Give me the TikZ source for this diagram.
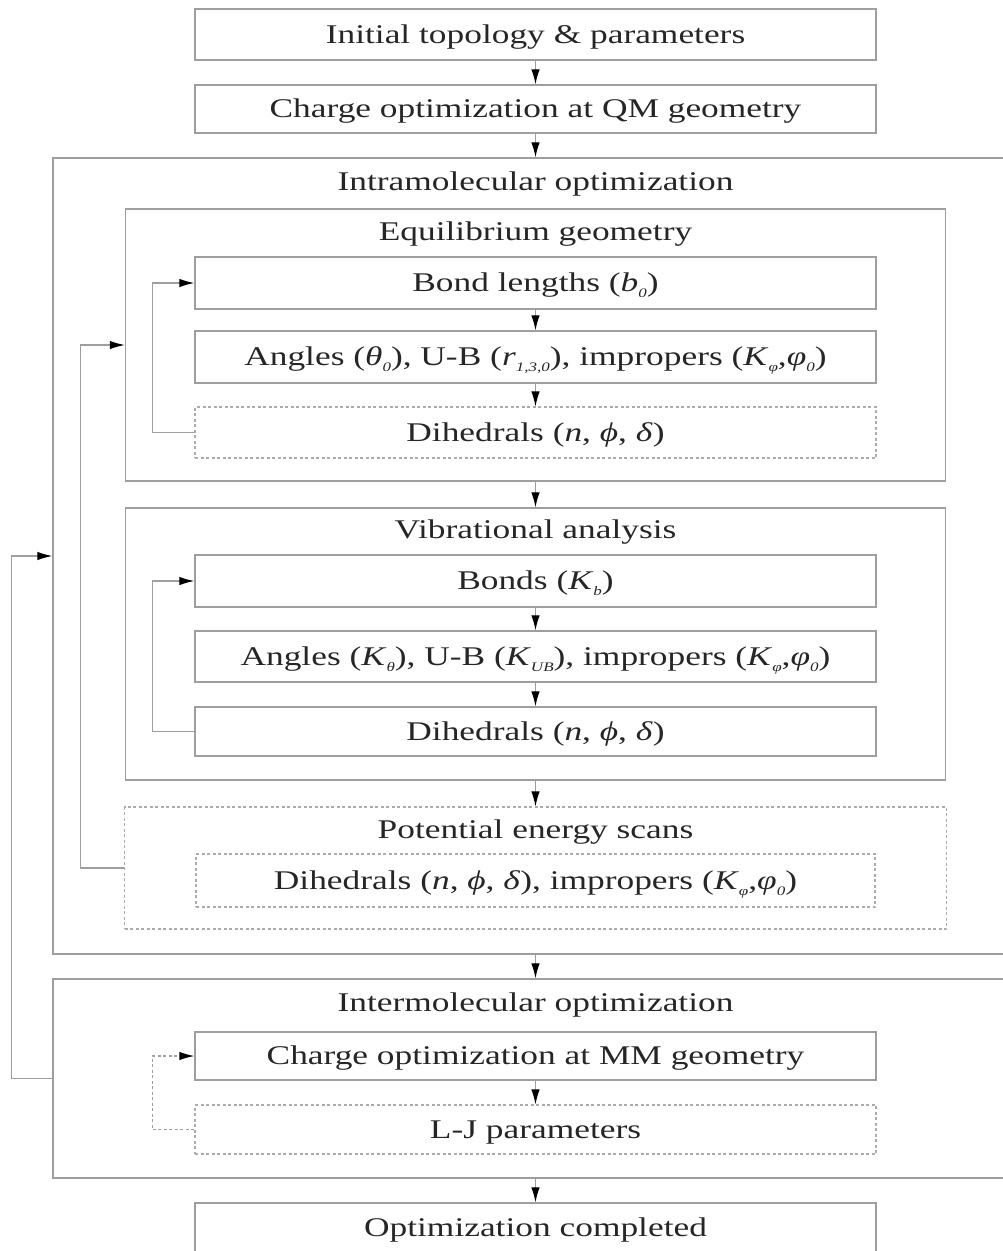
\documentclass[tikz,border=0pt]{standalone}
\usepackage{fontspec}
\setmainfont{Liberation Serif}
\usepackage{graphicx}
\usetikzlibrary{arrows.meta}
% text is set wide, as in the printed chart
\newcommand\wide[1]{\scalebox{1.31}[1]{#1}}
% lowered italic subscript
\newcommand\lo[1]{\raisebox{-6pt}{\fontsize{13}{13}\selectfont\itshape #1}}
\newcommand\mi[1]{\textit{#1}}

\begin{document}
\begin{tikzpicture}[x=1pt,y=-1pt,
  every node/.style={font=\fontsize{27}{31}\selectfont, text=black!85, text height=19pt, text depth=2pt},
  box/.style={draw=black!38, line width=1.4pt, rectangle, inner sep=0pt},
  dbox/.style={draw=black!33, line width=1.2pt, dash pattern=on 3pt off 2.5pt, rectangle, inner sep=0pt},
  heading/.style={inner sep=0pt},
  conn/.style={draw=black!38, line width=1.2pt, -{Latex[length=15pt,width=8.5pt,color=black]}},
  dconn/.style={conn, dash pattern=on 3pt off 2.5pt}
]
\useasboundingbox (0,0) rectangle (1003,1251);
\clip (0,0) rectangle (1003,1251);

% top steps
\node[box, minimum width=681pt, minimum height=51pt] (b1) at (535.5,34.5) {\wide{Initial topology \& parameters}};
\node[box, minimum width=681pt, minimum height=48pt] (b2) at (535.5,109) {\wide{Charge optimization at QM geometry}};

% intramolecular block
\node[box, minimum width=965pt, minimum height=796pt] (intra) at (535.5,556) {};
\node[heading] (intraT) at (535.5,181.5) {\wide{Intramolecular optimization}};

% equilibrium geometry
\node[box, minimum width=820pt, minimum height=272pt] (eq) at (535.5,345) {};
\node[heading] (eqT) at (535.5,231.5) {\wide{Equilibrium geometry}};
\node[box, minimum width=681pt, minimum height=52pt] (bond) at (535.5,283) {\wide{Bond lengths (\mi{b}\lo{0})}};
\node[box, minimum width=681pt, minimum height=52pt] (ang1) at (535.5,357) {\wide{Angles (\mi{θ}\lo{0}), U-B (\mi{r}\lo{1,3,0}), impropers (\mi{K}\lo{φ},\mi{φ}\lo{0})}};
\node[dbox, minimum width=681pt, minimum height=51pt] (dih1) at (535.5,432.5) {\wide{Dihedrals (\mi{n}, \mi{ϕ}, \mi{δ})}};

% vibrational analysis
\node[box, minimum width=820pt, minimum height=272pt] (vib) at (535.5,644) {};
\node[heading] (vibT) at (535.5,529.5) {\wide{Vibrational analysis}};
\node[box, minimum width=681pt, minimum height=52pt] (bonds2) at (535.5,581) {\wide{Bonds (\mi{K}\lo{b})}};
\node[box, minimum width=681pt, minimum height=51pt] (ang2) at (535.5,656.5) {\wide{Angles (\mi{K}\lo{θ}), U-B (\mi{K}\lo{UB}), impropers (\mi{K}\lo{φ},\mi{φ}\lo{0})}};
\node[box, minimum width=681pt, minimum height=49pt] (dih2) at (535.5,731.5) {\wide{Dihedrals (\mi{n}, \mi{ϕ}, \mi{δ})}};

% potential energy scans
\node[dbox, minimum width=822pt, minimum height=122pt] (pes) at (535.5,868) {};
\node[heading] (pesT) at (535.5,829.5) {\wide{Potential energy scans}};
\node[dbox, minimum width=679pt, minimum height=53pt] (dih3) at (535.5,880.5) {\wide{Dihedrals (\mi{n}, \mi{ϕ}, \mi{δ}), impropers (\mi{K}\lo{φ},\mi{φ}\lo{0})}};

% intermolecular block
\node[box, minimum width=965pt, minimum height=199pt] (inter) at (535.5,1078.5) {};
\node[heading] (interT) at (535.5,1002.5) {\wide{Intermolecular optimization}};
\node[box, minimum width=681pt, minimum height=48pt] (chg) at (535.5,1056) {\wide{Charge optimization at MM geometry}};
\node[dbox, minimum width=681pt, minimum height=49pt] (lj) at (535.5,1129.5) {\wide{L-J parameters}};

% final step
\node[box, minimum width=681pt, minimum height=49pt] (done) at (535.5,1227.5) {\wide{Optimization completed}};

% main flow
\draw[conn] (b1) -- (b2);
\draw[conn] (b2) -- (intra);
\draw[conn] (bond) -- (ang1);
\draw[conn] (ang1) -- (dih1);
\draw[conn] (eq) -- (vib);
\draw[conn] (bonds2) -- (ang2);
\draw[conn] (ang2) -- (dih2);
\draw[conn] (vib) -- (pes);
\draw[conn] (intra) -- (inter);
\draw[conn] (chg) -- (lj);
\draw[conn] (inter) -- (done);

% feedback loops
\draw[conn] (dih1.west) -- ++(-42,0) |- (bond.west);
\draw[conn] (dih2.west) -- ++(-42,0) |- (bonds2.west);
\draw[conn] (pes.west) -- ++(-43.5,0) |- (eq.west);
\draw[conn] (inter.west) -- ++(-41,0) |- (intra.west);
\draw[dconn] (lj.west) -- ++(-42,0) |- (chg.west);
\end{tikzpicture}
\end{document}
